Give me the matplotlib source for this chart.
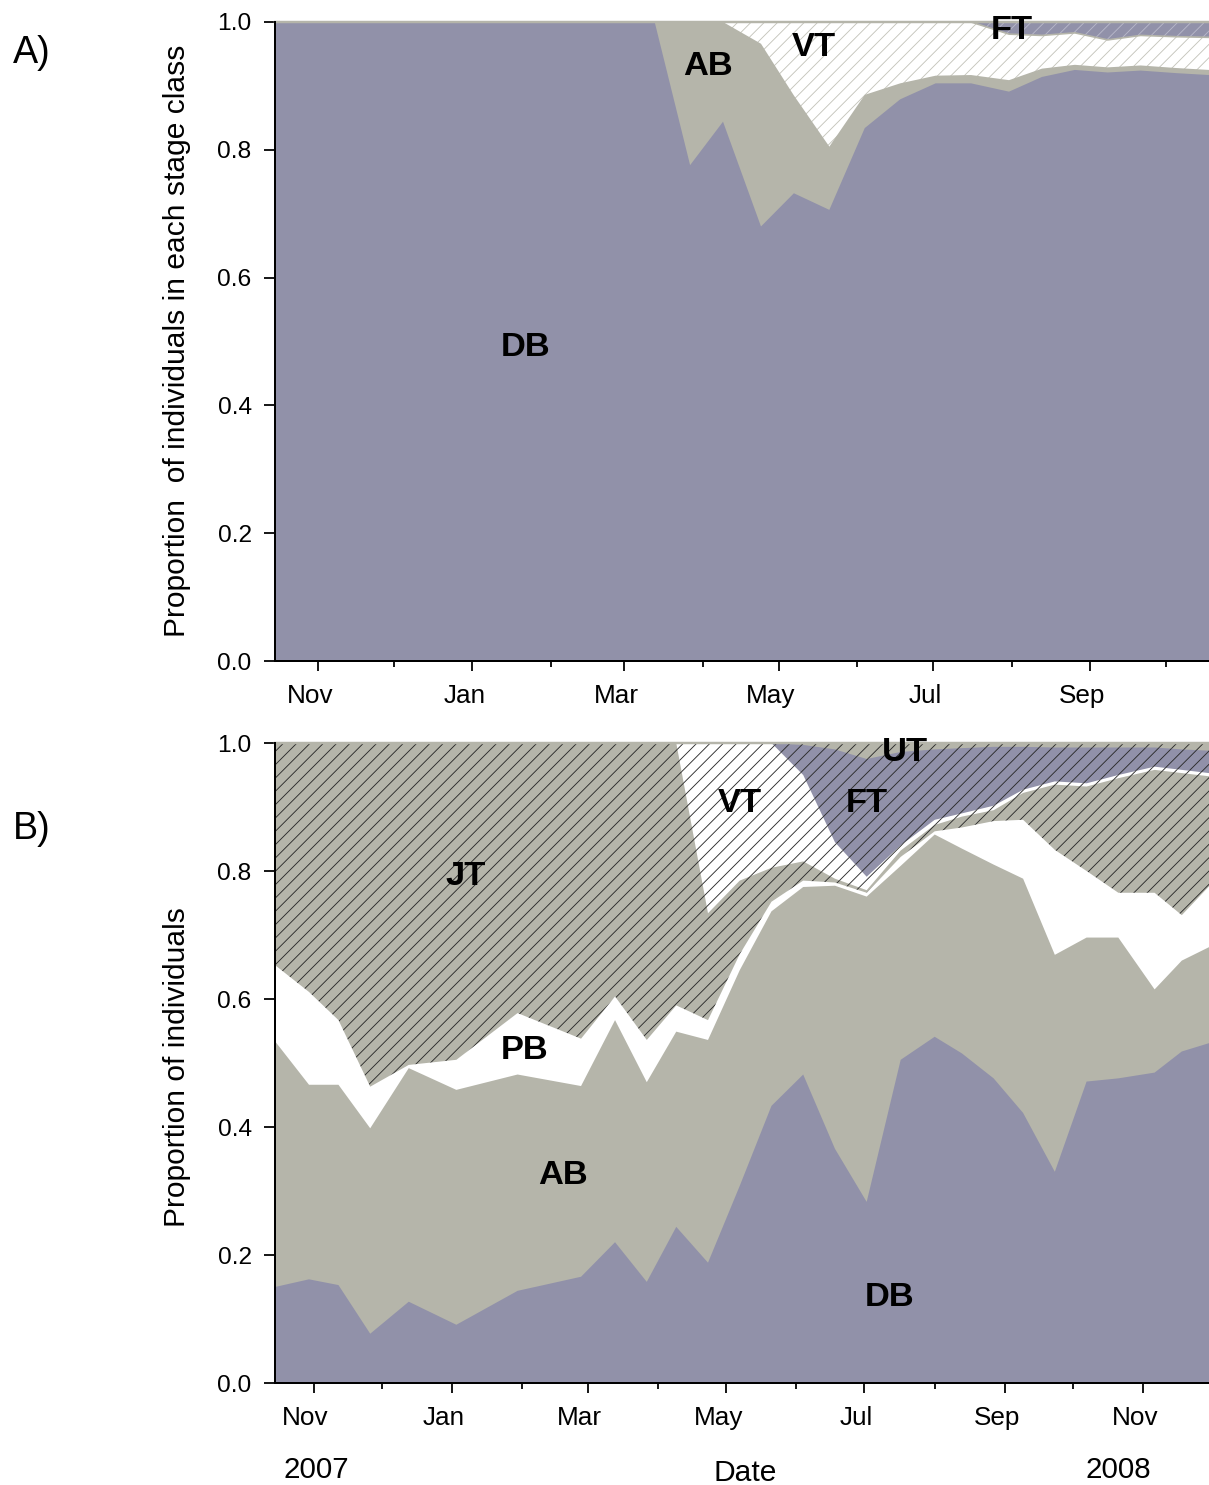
import numpy as np
import pandas as pd
import matplotlib
matplotlib.use("Agg")
import matplotlib.pyplot as plt
import matplotlib.dates as mdates
from matplotlib.transforms import ScaledTranslation

plt.rcParams['font.family'] = ['Liberation Sans', 'DejaVu Sans']
plt.rcParams['hatch.linewidth'] = 0.8

#colours
purple = '#9191a9'
grey = '#b5b5aa'
dark = '#2a2a2a'

# ---- panel A : proportion in each stage class ----
dates_a = pd.to_datetime(['2007-10-15', '2008-03-13', '2008-03-27', '2008-04-09', '2008-04-24',
                          '2008-05-07', '2008-05-21', '2008-06-04', '2008-06-18', '2008-07-02',
                          '2008-07-16', '2008-07-31', '2008-08-13', '2008-08-26', '2008-09-08',
                          '2008-09-21', '2008-10-05', '2008-10-18'])
db_a = [1.0, 1.0, .776, .844, .680, .732, .706, .834, .879, .904, .904, .891, .914, .925, .921, .924, .920, .917]
ab_a = [0.0, 0.0, .224, .156, .286, .153, .099, .052, .025, .012, .013, .018, .013, .008, .008, .008, .008, .008]
vt_a = [0.0, 0.0, 0.0, 0.0, .034, .115, .195, .114, .096, .084, .083, .072, .052, .050, .043, .047, .049, .051]
ft_a = [0.0, 0.0, 0.0, 0.0, 0.0, 0.0, 0.0, 0.0, 0.0, 0.0, 0.0, .019, .021, .017, .028, .021, .023, .024]

# ---- panel B : proportion of individuals ----
dates_b = pd.to_datetime(['2007-10-15', '2007-10-30', '2007-11-12', '2007-11-26', '2007-12-13',
                          '2008-01-03', '2008-01-30', '2008-02-27', '2008-03-13', '2008-03-27',
                          '2008-04-09', '2008-04-23', '2008-05-07', '2008-05-21', '2008-06-04',
                          '2008-06-18', '2008-07-02', '2008-07-17', '2008-08-01', '2008-08-13',
                          '2008-08-27', '2008-09-09', '2008-09-23', '2008-10-07', '2008-10-21',
                          '2008-11-06', '2008-11-18', '2008-11-30'])
db_b = [.150, .162, .153, .077, .127, .091, .144, .166, .220, .158, .244, .188, .308, .433,
        .482, .366, .283, .505, .541, .515, .476, .422, .330, .471, .476, .485, .518, .531]
ab_b = [.384, .304, .313, .321, .365, .367, .338, .298, .347, .312, .305, .348, .337, .304,
        .293, .411, .477, .303, .316, .320, .334, .366, .339, .225, .220, .130, .142, .150]
pb_b = [.119, .145, .101, .065, .005, .047, .096, .074, .037, .066, .041, .031, .025, .015,
        .010, .005, .006, .014, .005, .033, .068, .092, .164, .104, .070, .151, .071, .095]
jt_b = [.347, .389, .433, .537, .503, .495, .422, .462, .396, .464, .410, .167, .115, .053,
        .030, .006, .004, .010, .010, .017, .017, .042, .102, .132, .179, .192, .222, .172]
vt_b = [0, 0, 0, 0, 0, 0, 0, 0, 0, 0, 0, .266, .215, .195,
        .135, .057, .021, .008, .008, .005, .007, .005, .005, .005, .005, .005, .005, .005]
ft_b = [0, 0, 0, 0, 0, 0, 0, 0, 0, 0, 0, 0, 0, 0,
        .047, .145, .184, .146, .110, .102, .092, .067, .053, .056, .043, .030, .032, .035]
ut_b = [0, 0, 0, 0, 0, 0, 0, 0, 0, 0, 0, 0, 0, 0,
        .003, .010, .025, .014, .010, .008, .006, .006, .007, .007, .007, .007, .010, .012]


def draw_stack(ax, dates, layers):
    '''stacked areas, drawn from the top layer down so no seams show'''
    tops = np.cumsum([np.array(l[0], dtype=float) for l in layers], axis=0)
    zero = np.zeros(len(dates))
    for i in range(len(layers) - 1, -1, -1):
        vals, face, hatch, hcol = layers[i]
        ax.fill_between(dates, zero, tops[i], facecolor=face, linewidth=0, zorder=1)
        if hatch:
            ax.fill_between(dates, zero, tops[i], facecolor='none', edgecolor=hcol,
                            hatch=hatch, linewidth=0, zorder=1)
    return tops


def style_axis(ax, start, end):
    ax.set_xlim(pd.Timestamp(start), pd.Timestamp(end))
    ax.set_ylim(0, 1.0)
    ax.set_yticks(np.arange(0, 1.01, 0.2))
    ax.yaxis.set_major_formatter(plt.FormatStrFormatter('%.1f'))
    ax.xaxis.set_major_locator(mdates.MonthLocator(bymonth=[1, 3, 5, 7, 9, 11]))
    ax.xaxis.set_minor_locator(mdates.MonthLocator())
    ax.xaxis.set_major_formatter(mdates.DateFormatter('%b'))
    for s in ['top', 'right']:
        ax.spines[s].set_visible(False)
    for s in ['left', 'bottom']:
        ax.spines[s].set_linewidth(1.8)
        ax.spines[s].set_zorder(5)
    ax.tick_params(axis='x', which='major', length=9, width=1.6, pad=12, labelsize=23.5)
    ax.tick_params(axis='x', which='minor', length=5, width=1.6)
    ax.tick_params(axis='y', length=10, width=1.6, pad=11, labelsize=22)
    ax.axhline(1.0, color=grey, lw=2.2, clip_on=False, zorder=4)
    for lab in ax.get_xticklabels():
        lab.set_transform(lab.get_transform() + ScaledTranslation(-8 / 80, 0, ax.figure.dpi_scale_trans))


fig = plt.figure(figsize=(1209 / 80, 1485 / 80), dpi=80)
axA = fig.add_axes([275 / 1209, 1 - 661 / 1485, 934 / 1209, 639 / 1485])
axB = fig.add_axes([275 / 1209, 1 - 1383 / 1485, 934 / 1209, 640 / 1485])

layers_a = [(db_a, purple, None, None),
            (ab_a, grey, None, None),
            (vt_a, 'white', '//', '#c4c4bb'),
            (ft_a, purple, '//', '#b8b8c9')]
tops_a = draw_stack(axA, dates_a, layers_a)
axA.plot(dates_a, tops_a[2], color=grey, lw=1.5, zorder=2)
style_axis(axA, '2007-10-15', '2008-10-18')

layers_b = [(db_b, purple, None, None),
            (ab_b, grey, None, None),
            (pb_b, 'white', None, None),
            (jt_b, grey, '//', dark),
            (vt_b, 'white', '//', dark),
            (ft_b, purple, '//', dark),
            (ut_b, grey, '//', dark)]
draw_stack(axB, dates_b, layers_b)
style_axis(axB, '2007-10-15', '2008-11-30')

# stage labels
bold = dict(fontsize=31, fontweight='bold', ha='center', va='center', zorder=6)
axA.text(pd.Timestamp('2008-04-03'), 0.930, 'AB', **bold)
axA.text(pd.Timestamp('2008-05-15'), 0.960, 'VT', **bold)
axA.text(pd.Timestamp('2008-08-01'), 0.987, 'FT', clip_on=False, **bold)
axA.text(pd.Timestamp('2008-01-22'), 0.490, 'DB', **bold)

axB.text(pd.Timestamp('2008-01-07'), 0.792, 'JT', **bold)
axB.text(pd.Timestamp('2008-02-02'), 0.520, 'PB', **bold)
axB.text(pd.Timestamp('2008-02-19'), 0.325, 'AB', **bold)
axB.text(pd.Timestamp('2008-05-07'), 0.905, 'VT', **bold)
axB.text(pd.Timestamp('2008-07-02'), 0.905, 'FT', **bold)
axB.text(pd.Timestamp('2008-07-19'), 0.985, 'UT', clip_on=False, **bold)
axB.text(pd.Timestamp('2008-07-12'), 0.133, 'DB', **bold)

# axis titles and panel letters
fig.text(177 / 1209, 1 - 341 / 1485, 'Proportion  of individuals in each stage class',
         rotation=90, ha='center', va='center', fontsize=27)
fig.text(177 / 1209, 1 - 1067 / 1485, 'Proportion of individuals',
         rotation=90, ha='center', va='center', fontsize=27)
fig.text(32 / 1209, 1 - 53 / 1485, 'A)', ha='center', va='center', fontsize=34)
fig.text(32 / 1209, 1 - 829 / 1485, 'B)', ha='center', va='center', fontsize=34)
fig.text(316 / 1209, 1 - 1470 / 1485, '2007', ha='center', va='center', fontsize=26.5)
fig.text(1118 / 1209, 1 - 1470 / 1485, '2008', ha='center', va='center', fontsize=26.5)
fig.text(745 / 1209, 1 - 1473 / 1485, 'Date', ha='center', va='center', fontsize=27)

fig.savefig('out.png', dpi=80)
